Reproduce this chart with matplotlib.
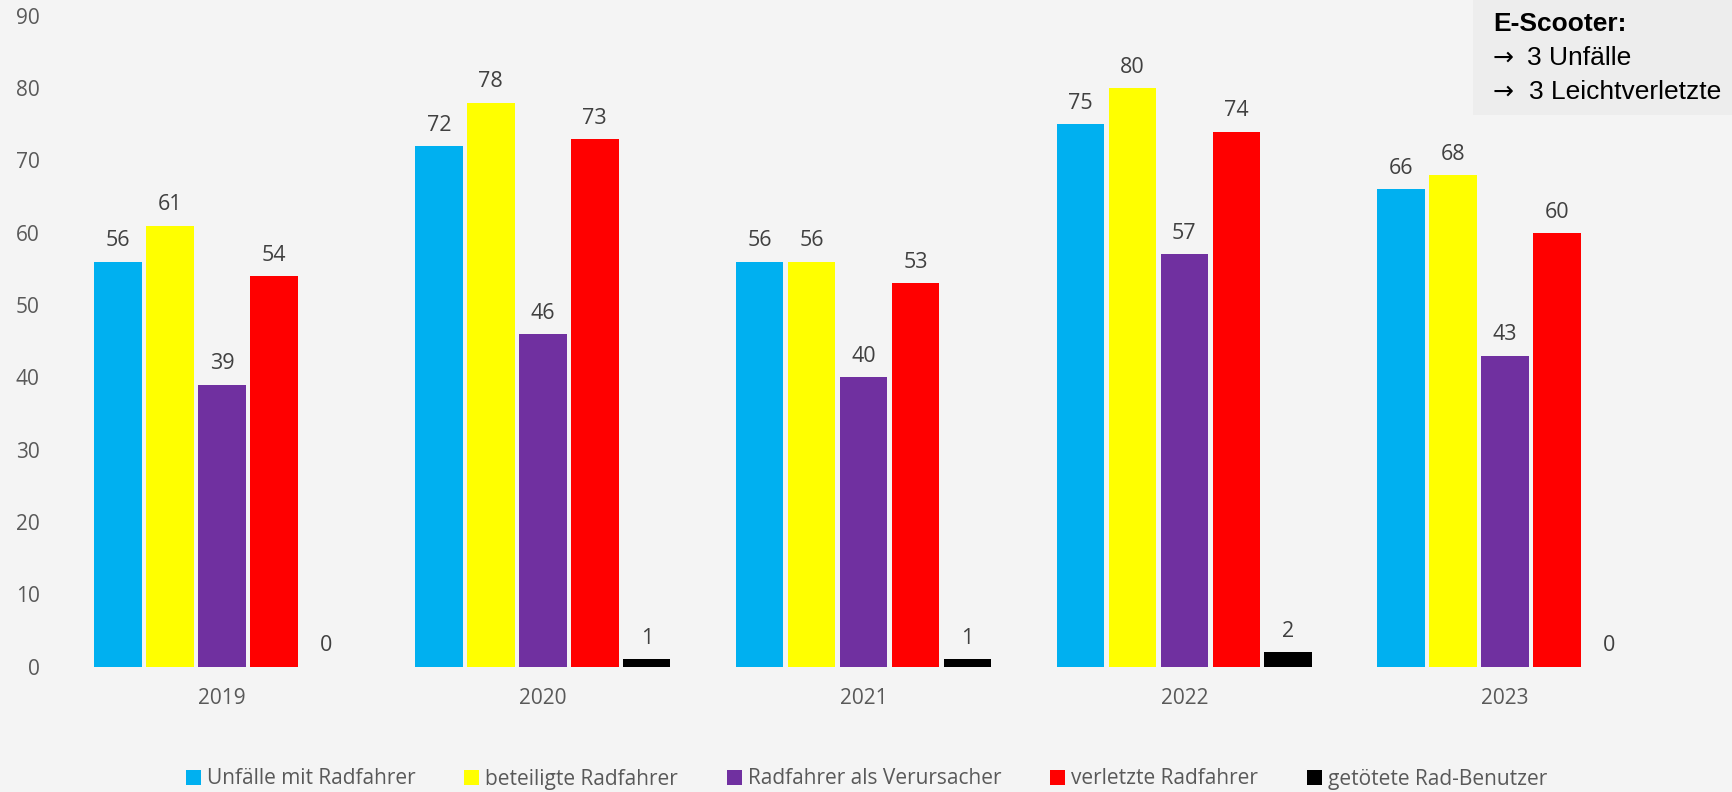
import matplotlib.pyplot as plt
import numpy as np
from matplotlib.patches import Patch, Rectangle

years = ["2019", "2020", "2021", "2022", "2023"]
series_names = ["Unfälle mit Radfahrer", "beteiligte Radfahrer", "Radfahrer als Verursacher",
                "verletzte Radfahrer", "getötete Rad-Benutzer"]
unfaelle = [56, 72, 56, 75, 66]
beteiligte = [61, 78, 56, 80, 68]
verursacher = [39, 46, 40, 57, 43]
verletzte = [54, 73, 53, 74, 60]
getoetete = [0, 1, 1, 2, 0]
colors = ["#00B0F0", "#FFFF00", "#7030A0", "#FF0000", "#000000"]

bg = "#F4F4F4"
plt.rcParams['font.family'] = ['Open Sans', 'DejaVu Sans']

fig = plt.figure(figsize=(17.33, 7.92), dpi=100, facecolor=bg)
ax = fig.add_axes([0.0356, 0.1582, 0.9254, 0.8218])
ax.set_facecolor(bg)

x = np.arange(len(years))
slot = 0.162   # spacing between bars in a group
width = 0.148
all_series = [unfaelle, beteiligte, verursacher, verletzte, getoetete]

for i, vals in enumerate(all_series):
    pos = x + (i - 2) * slot
    ax.bar(pos, vals, width=width, color=colors[i], zorder=2)
    for px, v in zip(pos, vals):
        ax.annotate(str(v), (px, v), xytext=(0, 11), textcoords="offset points",
                    ha="center", va="baseline", fontsize=15.5, color="#404040")

ax.set_xlim(-0.5, 4.5)
ax.set_ylim(0, 90)
ax.set_yticks(range(0, 91, 10))
ax.set_xticks(x)
ax.set_xticklabels(years)
ax.tick_params(axis="both", length=0, labelsize=15, labelcolor="#595959")
ax.tick_params(axis="y", pad=16)
ax.tick_params(axis="x", pad=15)
for s in ax.spines.values():
    s.set_visible(False)

# legend at the bottom
handles = [Patch(facecolor=c, edgecolor="none") for c in colors]
fig.legend(handles, series_names, loc="center", bbox_to_anchor=(0.5, 1 - 779 / 792),
           ncol=5, frameon=False, fontsize=15, labelcolor="#595959",
           handlelength=0.72, handleheight=0.72, handletextpad=0.28, columnspacing=2.35)

# E-Scooter note box, top right
W, H = 1733, 792
fig.patches.append(Rectangle((1473 / W, 1 - 115 / H), 1 - 1473 / W, 115 / H,
                             transform=fig.transFigure, facecolor="#EDEDED",
                             edgecolor="none", zorder=0))
box_font = ['Liberation Sans', 'DejaVu Sans']
fig.text(1493 / W, 1 - 31 / H, "E-Scooter:", fontsize=19, fontweight="bold",
         family=box_font, va="baseline", color="black")
for base, xt, txt in [(65, 1527, "3 Unfälle"), (99, 1529, "3 Leichtverletzte")]:
    fig.text(1493 / W, 1 - base / H, "\u2192", fontsize=18, family=['DejaVu Sans'],
             va="baseline", color="black")
    fig.text(xt / W, 1 - base / H, txt, fontsize=19, family=box_font,
             va="baseline", color="black")

fig.savefig("out.png", dpi=100, facecolor=bg)
